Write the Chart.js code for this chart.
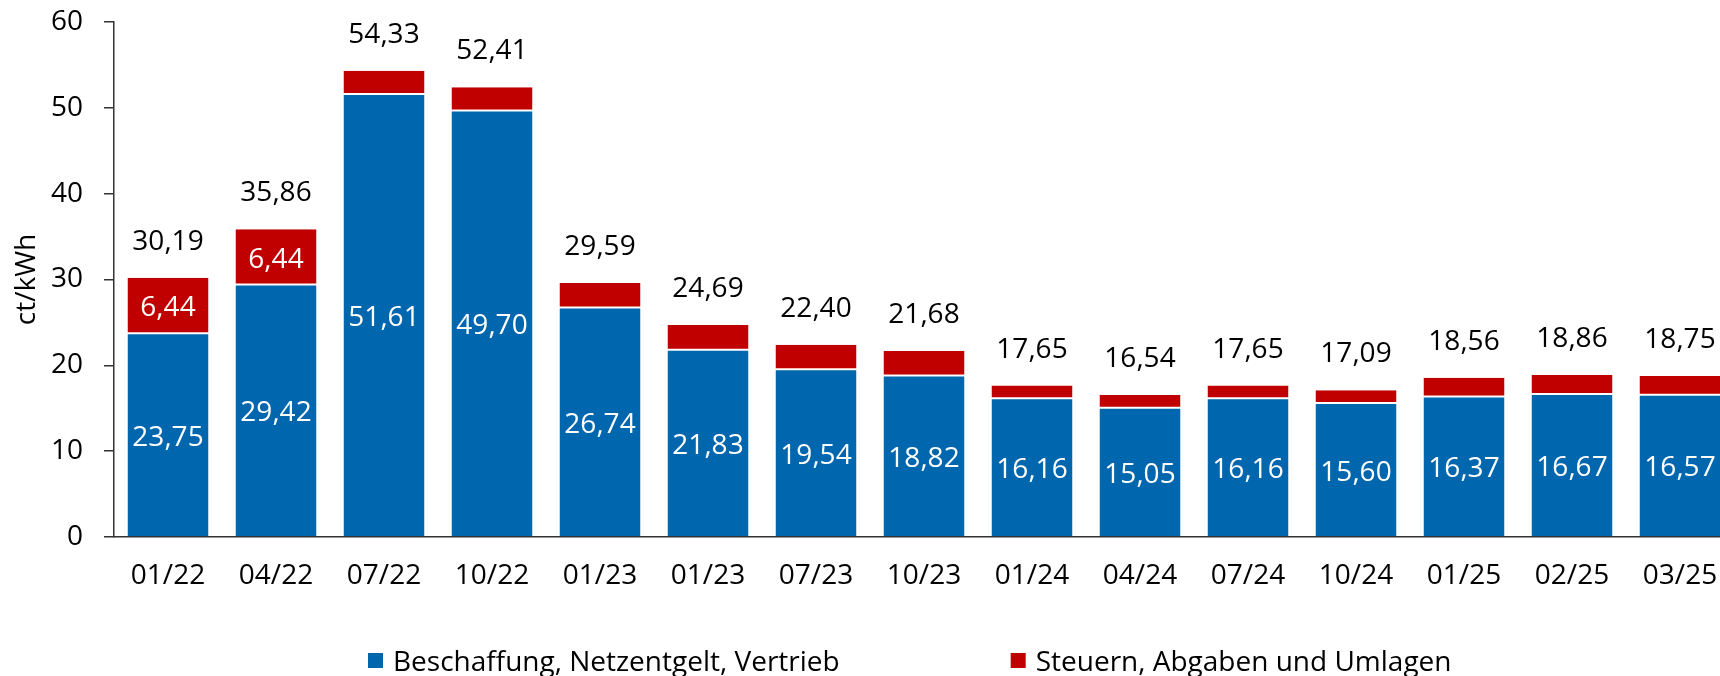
<!DOCTYPE html>
<html>
<head>
<meta charset="utf-8">
<script src="https://cdn.jsdelivr.net/npm/chart.js@4.4.1/dist/chart.umd.min.js"></script>
<style>
  html, body { margin: 0; padding: 0; background: #fff; overflow: hidden; }
  #wrap { width: 1734px; height: 676px; position: relative; }
</style>
</head>
<body>
<div id="wrap"><canvas id="chart"></canvas></div>
<script>
var categories = ["01/22", "04/22", "07/22", "10/22", "01/23", "01/23", "07/23", "10/23",
                  "01/24", "04/24", "07/24", "10/24", "01/25", "02/25", "03/25"];
// Beschaffung, Netzentgelt, Vertrieb
var supplyValues = [23.75, 29.42, 51.61, 49.70, 26.74, 21.83, 19.54, 18.82,
                    16.16, 15.05, 16.16, 15.60, 16.37, 16.67, 16.57];
// Steuern, Abgaben und Umlagen
var taxValues = [6.44, 6.44, 2.72, 2.71, 2.85, 2.86, 2.86, 2.86,
                 1.49, 1.49, 1.49, 1.49, 2.19, 2.19, 2.18];
var yTicks = [0, 10, 20, 30, 40, 50, 60];
var seriesNames = ["Beschaffung, Netzentgelt, Vertrieb", "Steuern, Abgaben und Umlagen"];
var seriesColors = ["#0066AD", "#C00000"];

Chart.defaults.font.family = "'Open Sans'";
Chart.defaults.color = "#000";

function fmt(v) {
  return (Math.round(v * 100) / 100).toFixed(2).replace(".", ",");
}

// white values inside the segments, black totals on top
var valueLabels = {
  id: "valueLabels",
  afterDatasetsDraw: function(chart) {
    var ctx = chart.ctx;
    ctx.save();
    ctx.font = "28px 'Open Sans'";
    ctx.textAlign = "center";
    chart.data.datasets.forEach(function(ds, i) {
      chart.getDatasetMeta(i).data.forEach(function(bar, j) {
        if (bar.base - bar.y < 40) return;
        ctx.fillStyle = "#fff";
        ctx.textBaseline = "middle";
        ctx.fillText(fmt(ds.data[j]), bar.x, (bar.y + bar.base) / 2 + 3);
      });
    });
    var last = chart.getDatasetMeta(chart.data.datasets.length - 1);
    last.data.forEach(function(bar, j) {
      ctx.fillStyle = "#000";
      ctx.textBaseline = "alphabetic";
      ctx.fillText(fmt(supplyValues[j] + taxValues[j]), bar.x, bar.y - 28);
    });
    ctx.restore();
  }
};

// legend with the wide gap between the two entries
var bottomLegend = {
  id: "bottomLegend",
  afterDraw: function(chart) {
    var ctx = chart.ctx;
    ctx.save();
    ctx.font = "28px 'Open Sans'";
    ctx.textBaseline = "middle";
    ctx.textAlign = "left";
    var x = 368, y = 661;
    seriesNames.forEach(function(name, i) {
      ctx.fillStyle = seriesColors[i];
      ctx.fillRect(x, y - 8, 15, 15);
      ctx.fillStyle = "#000";
      ctx.fillText(name, x + 25, y + 2);
      x += 25 + ctx.measureText(name).width + 171;
    });
    ctx.restore();
  }
};

new Chart(document.getElementById("chart"), {
  type: "bar",
  data: {
    labels: categories,
    datasets: [{
      label: seriesNames[0],
      data: supplyValues,
      backgroundColor: seriesColors[0],
      borderColor: "#fff",
      borderWidth: {top: 1, left: 0, right: 0, bottom: 0},
      barPercentage: 0.75,
      categoryPercentage: 1
    }, {
      label: seriesNames[1],
      data: taxValues,
      backgroundColor: seriesColors[1],
      borderColor: "#fff",
      borderWidth: {top: 0, left: 0, right: 0, bottom: 1},
      borderSkipped: false,
      barPercentage: 0.75,
      categoryPercentage: 1
    }]
  },
  options: {
    responsive: true,
    maintainAspectRatio: false,
    animation: false,
    layout: {padding: {top: 22, left: 0, right: 0, bottom: 79}},
    plugins: {
      legend: {display: false},
      tooltip: {enabled: false}
    },
    scales: {
      x: {
        stacked: true,
        grid: {display: false},
        border: {display: true, color: "#333", width: 1.5},
        ticks: {font: {size: 28}, padding: 14, maxRotation: 0, autoSkip: false},
        afterFit: function(scale) {
          scale.height = 60;
          scale.paddingLeft = 0;
          scale.paddingRight = 0;
        }
      },
      y: {
        stacked: true,
        min: 0,
        max: 60,
        afterBuildTicks: function(axis) {
          axis.ticks = yTicks.map(function(v) { return {value: v}; });
        },
        grid: {drawOnChartArea: false, drawTicks: true, tickLength: 10, color: "#333", lineWidth: 1.5},
        border: {display: true, color: "#333", width: 1.5},
        ticks: {font: {size: 28}, padding: 21},
        title: {display: true, text: "ct/kWh", font: {size: 28}, padding: {top: 10, bottom: 0}},
        afterFit: function(scale) {
          scale.width = 114;
          scale.paddingTop = 0;
          scale.paddingBottom = 0;
        }
      }
    }
  },
  plugins: [valueLabels, bottomLegend]
});
</script>
</body>
</html>
